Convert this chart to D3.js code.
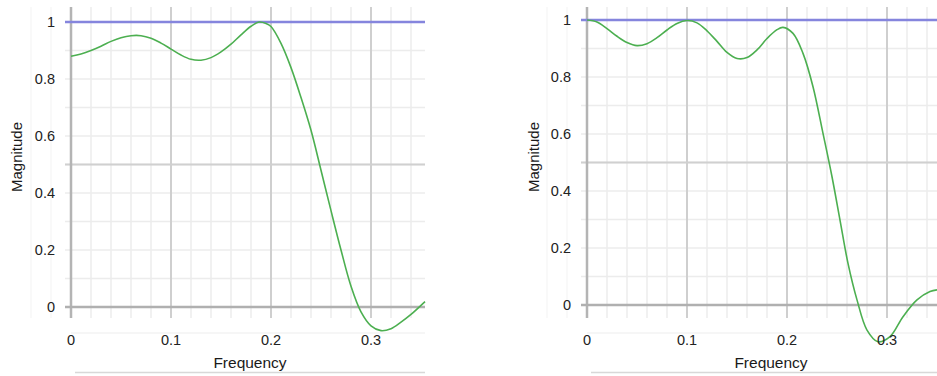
<!DOCTYPE html>
<html>
<head>
<meta charset="utf-8">
<script src="https://cdn.jsdelivr.net/npm/d3@7"></script>
<style>
  body { margin: 0; background: #fff; }
  svg { display: block; font-family: "Liberation Sans", Arial, sans-serif; }
</style>
</head>
<body>
<svg id="chart" width="937" height="376"></svg>
<script>
// values
const leftFreq = [0, 0.01, 0.02, 0.03, 0.04, 0.05, 0.06, 0.07, 0.08, 0.09, 0.1, 0.11, 0.12, 0.13, 0.14, 0.15, 0.16, 0.17, 0.18, 0.188, 0.195, 0.2, 0.21, 0.22, 0.23, 0.24, 0.25, 0.26, 0.27, 0.28, 0.29, 0.3, 0.31, 0.32, 0.33, 0.34, 0.354];
const leftMag = [0.88, 0.888, 0.9, 0.915, 0.932, 0.945, 0.952, 0.952, 0.943, 0.926, 0.905, 0.884, 0.869, 0.866, 0.875, 0.895, 0.922, 0.955, 0.985, 1.0, 0.995, 0.984, 0.925, 0.84, 0.735, 0.62, 0.48, 0.338, 0.2, 0.073, -0.017, -0.066, -0.083, -0.076, -0.053, -0.026, 0.019];

const rightFreq = [0, 0.01, 0.02, 0.03, 0.04, 0.05, 0.06, 0.07, 0.08, 0.09, 0.1, 0.11, 0.12, 0.13, 0.14, 0.15, 0.16, 0.17, 0.18, 0.19, 0.196, 0.206, 0.216, 0.226, 0.236, 0.245, 0.253, 0.261, 0.27, 0.28, 0.291, 0.303, 0.316, 0.33, 0.343, 0.35];
const rightMag = [1.0, 0.993, 0.97, 0.943, 0.921, 0.91, 0.917, 0.938, 0.965, 0.988, 0.998, 0.99, 0.962, 0.925, 0.886, 0.865, 0.868, 0.895, 0.935, 0.966, 0.974, 0.953, 0.883, 0.766, 0.602, 0.45, 0.298, 0.146, 0.018, -0.088, -0.129, -0.111, -0.041, 0.018, 0.047, 0.053];

const xTicks = [0, 0.1, 0.2, 0.3];
const yTicks = [0, 0.2, 0.4, 0.6, 0.8, 1];
const refLevel = 1;

const svg = d3.select('#chart');

function drawPanel(freq, mag, box) {
  const x = d3.scaleLinear().domain([0, box.xmax]).range([box.x0, box.x1]);
  const y = d3.scaleLinear().domain([0, 1]).range([box.y0, box.y1]);
  const g = svg.append('g');

  // vertical grid, minor every 0.02
  const vMinor = d3.range(-2, Math.floor(box.xmax * 50 + 0.001) + 1).map(i => i / 50);
  g.selectAll('.vminor').data(vMinor).enter().append('line')
    .attr('x1', d => x(d)).attr('x2', d => x(d))
    .attr('y1', box.gTop).attr('y2', box.gBot)
    .attr('stroke', d => d < 0 ? '#f7f7f7' : '#ececec')
    .attr('stroke-width', 1.5);

  // horizontal grid, minor every 0.1
  const hMinor = d3.range(0, 11).map(i => i / 10);
  g.selectAll('.hminor').data(hMinor).enter().append('line')
    .attr('x1', box.x0 - 6).attr('x2', box.x1)
    .attr('y1', d => y(d)).attr('y2', d => y(d))
    .attr('stroke', '#ececec')
    .attr('stroke-width', 1.5);

  // major verticals
  g.selectAll('.vmajor').data(xTicks.filter(d => d > 0)).enter().append('line')
    .attr('x1', d => x(d)).attr('x2', d => x(d))
    .attr('y1', box.gTop).attr('y2', box.gBot)
    .attr('stroke', '#cfcfcf').attr('stroke-width', 2);

  // major horizontal at 0.5
  g.append('line')
    .attr('x1', box.x0 - 6).attr('x2', box.x1)
    .attr('y1', y(0.5)).attr('y2', y(0.5))
    .attr('stroke', '#d0d0d0').attr('stroke-width', 2);

  // axes
  g.append('line')
    .attr('x1', x(0)).attr('x2', x(0))
    .attr('y1', box.gTop).attr('y2', box.gBot)
    .attr('stroke', '#b4b4b4').attr('stroke-width', 2.5);
  g.append('line')
    .attr('x1', box.x0 - 6).attr('x2', box.x1)
    .attr('y1', y(0)).attr('y2', y(0))
    .attr('stroke', '#b0b0b0').attr('stroke-width', 2.5);

  // faint band under tick labels
  g.append('line')
    .attr('x1', box.x0).attr('x2', box.x1)
    .attr('y1', box.gBot + 15).attr('y2', box.gBot + 15)
    .attr('stroke', '#f6f6f6').attr('stroke-width', 2);

  // reference line
  g.append('line')
    .attr('x1', box.x0 - 6).attr('x2', box.x1)
    .attr('y1', y(refLevel)).attr('y2', y(refLevel))
    .attr('stroke', '#8585dd').attr('stroke-width', 2.5);

  // response curve
  const pts = freq.map((f, i) => [f, mag[i]]);
  const line = d3.line().x(d => x(d[0])).y(d => y(d[1])).curve(d3.curveCatmullRom.alpha(0.5));
  g.append('path').datum(pts)
    .attr('d', line)
    .attr('fill', 'none')
    .attr('stroke', '#4caf50')
    .attr('stroke-width', 1.6);

  // tick labels
  g.selectAll('.ylab').data(yTicks).enter().append('text')
    .attr('x', box.x0 - 16).attr('y', d => y(d))
    .attr('dy', '0.35em')
    .attr('text-anchor', 'end')
    .attr('font-size', 14.5)
    .attr('fill', '#222')
    .text(d => d3.format('~g')(d));
  g.selectAll('.xlab').data(xTicks).enter().append('text')
    .attr('x', d => x(d)).attr('y', 345)
    .attr('text-anchor', 'middle')
    .attr('font-size', 14.5)
    .attr('fill', '#222')
    .text(d => d3.format('~g')(d));

  // axis titles
  g.append('text')
    .attr('transform', 'translate(' + box.magX + ',157) rotate(-90)')
    .attr('text-anchor', 'middle')
    .attr('font-size', 15)
    .attr('fill', '#1a1a1a')
    .text('Magnitude');
  g.append('text')
    .attr('x', box.freqX).attr('y', 368)
    .attr('text-anchor', 'middle')
    .attr('font-size', 15.5)
    .attr('fill', '#1a1a1a')
    .text('Frequency');

  // bottom separator
  g.append('line')
    .attr('x1', box.x0 + 4).attr('x2', box.x1)
    .attr('y1', 372.5).attr('y2', 372.5)
    .attr('stroke', '#d8d8d8').attr('stroke-width', 1.5);
}

drawPanel(leftFreq, leftMag, {x0: 71, x1: 425, xmax: 0.354, y0: 307, y1: 22, gTop: 7, gBot: 318, magX: 22, freqX: 250});
drawPanel(rightFreq, rightMag, {x0: 587, x1: 937, xmax: 0.35, y0: 305, y1: 20, gTop: 7, gBot: 318, magX: 539, freqX: 771});
</script>
</body>
</html>
